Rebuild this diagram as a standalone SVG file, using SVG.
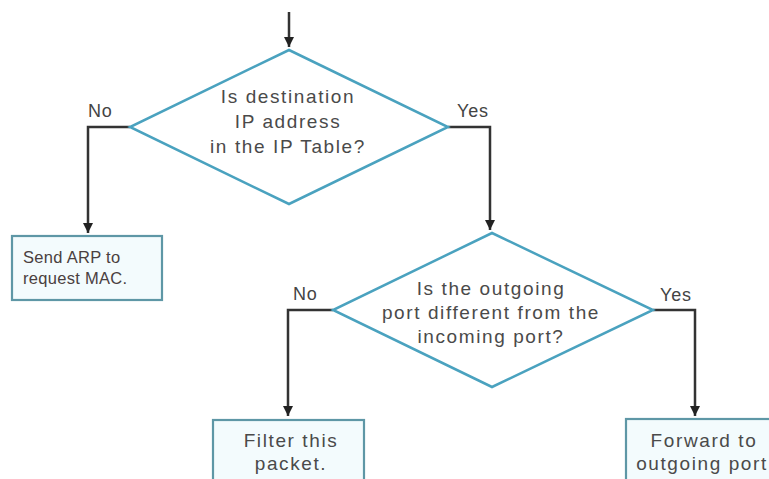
<svg xmlns="http://www.w3.org/2000/svg" width="769" height="479" viewBox="0 0 769 479">
<style>
.dia{fill:#ffffff;stroke:#4aa2bf;stroke-width:2.5;stroke-linejoin:miter}
.box{fill:#f3fbfd;stroke:#5e97a6;stroke-width:2.2}
.con{fill:none;stroke:#333333;stroke-width:2.5}
.t{font-family:"Liberation Sans",Arial,sans-serif;font-size:19px;fill:#4a4a4a;text-anchor:middle;letter-spacing:1.6px}
.lbl{font-family:"Liberation Sans",Arial,sans-serif;font-size:18px;fill:#444444;letter-spacing:0.8px}
.s{font-family:"Liberation Sans",Arial,sans-serif;font-size:16.5px;fill:#4a4040;letter-spacing:0.3px}
</style>
<defs>
<marker id="arr" markerUnits="userSpaceOnUse" markerWidth="11" markerHeight="11" refX="10" refY="5" orient="auto">
<path d="M0,0 L10,5 L0,10 z" fill="#222222"/>
</marker>
</defs>
<rect width="769" height="479" fill="#ffffff"/>
<g id="connectors">
<path class="con" d="M289,12 L289,47" marker-end="url(#arr)"/>
<path class="con" d="M130,127 L88,127 L88,233" marker-end="url(#arr)"/>
<path class="con" d="M448,127 L490,127 L490,230" marker-end="url(#arr)"/>
<path class="con" d="M333,310 L288,310 L288,416" marker-end="url(#arr)"/>
<path class="con" d="M653,310 L695,310 L695,416" marker-end="url(#arr)"/>
</g>
<g id="decision1">
<polygon class="dia" points="289,50 448,127 289,204 130,127"/>
<text class="t" x="288" y="103">Is destination</text>
<text class="t" x="288" y="128">IP address</text>
<text class="t" x="288" y="153">in the IP Table?</text>
</g>
<g id="label-no1"><text class="lbl" x="88" y="117">No</text></g>
<g id="label-yes1"><text class="lbl" x="457" y="117">Yes</text></g>
<g id="send-arp">
<rect class="box" x="12" y="236" width="150" height="64"/>
<text class="s" x="23" y="263">Send ARP to</text>
<text class="s" x="23" y="284">request MAC.</text>
</g>
<g id="decision2">
<polygon class="dia" points="492,233 653,310 492,387 333,310"/>
<text class="t" x="491" y="295">Is the outgoing</text>
<text class="t" x="491" y="319">port different from the</text>
<text class="t" x="491" y="343">incoming port?</text>
</g>
<g id="label-no2"><text class="lbl" x="293" y="300">No</text></g>
<g id="label-yes2"><text class="lbl" x="660" y="301">Yes</text></g>
<g id="filter">
<rect class="box" x="213" y="420" width="151" height="70"/>
<text class="t" x="291" y="447">Filter this</text>
<text class="t" x="291" y="470">packet.</text>
</g>
<g id="forward">
<rect class="box" x="626" y="419" width="151" height="70"/>
<text class="t" x="704" y="447">Forward to</text>
<text class="t" x="702" y="470">outgoing port</text>
</g>
</svg>
